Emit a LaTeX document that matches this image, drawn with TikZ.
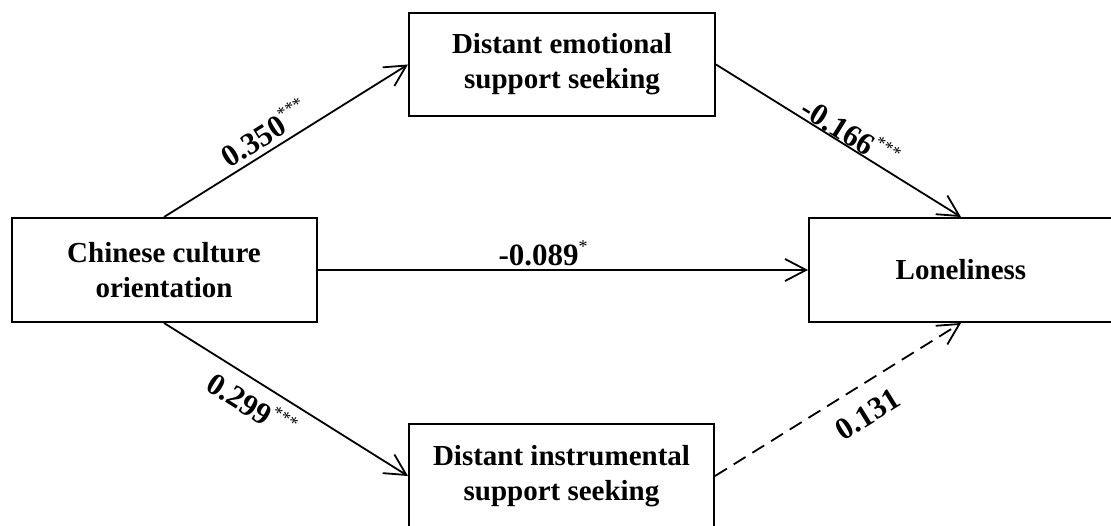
\documentclass[tikz,border=0pt]{standalone}
\usepackage{fontspec}
\setmainfont{Liberation Serif}
\usetikzlibrary{arrows.meta}
% significance marks: small, regular weight, raised
\newcommand\sigstars[1]{\raisebox{13pt}{\mdseries\fontsize{18}{18}\selectfont #1}}
\begin{document}
\begin{tikzpicture}[x=1pt,y=-1pt,
  box/.style={draw, line width=2pt, minimum width=#1, minimum height=104pt,
    inner sep=0pt, align=center, font=\bfseries\fontsize{29}{35}\selectfont},
  link/.style={line width=1.8pt, -{Straight Barb[length=21pt,width=22pt]}},
  coef/.style={font=\bfseries\fontsize{31}{34}\selectfont, sloped}]
\useasboundingbox (0,0) rectangle (1111,525);

% variables
\node[box=305pt] (cco) at (164,270) {Chinese culture\\orientation};
\node[box=306pt, minimum height=103pt] (emo) at (562,64.5) {Distant emotional\\support seeking};
\node[box=305pt] (ins) at (561.5,476) {Distant instrumental\\support seeking};
\node[box=304pt] (lon) at (961,270) {Loneliness};

% paths with standardized coefficients
\draw[link] (cco.north) -- node[coef, pos=0.45, above, inner sep=5pt] {0.350\sigstars{***}} (emo.west);
\draw[link] (emo.east) -- node[coef, pos=0.52, above, inner sep=0pt] {-0.166\sigstars{***}} (lon.north);
\draw[link] (cco.east) -- node[coef, pos=0.46, above, inner sep=3pt] {-0.089\sigstars{*}} (lon.west);
\draw[link] (cco.south) -- node[coef, pos=0.41, below, inner sep=9pt] {0.299\sigstars{***}} (ins.west);
\draw[link, dash pattern=on 14pt off 8pt] (ins.east) -- node[coef, pos=0.56, below, inner sep=17pt] {0.131} (lon.south);
\end{tikzpicture}
\end{document}
